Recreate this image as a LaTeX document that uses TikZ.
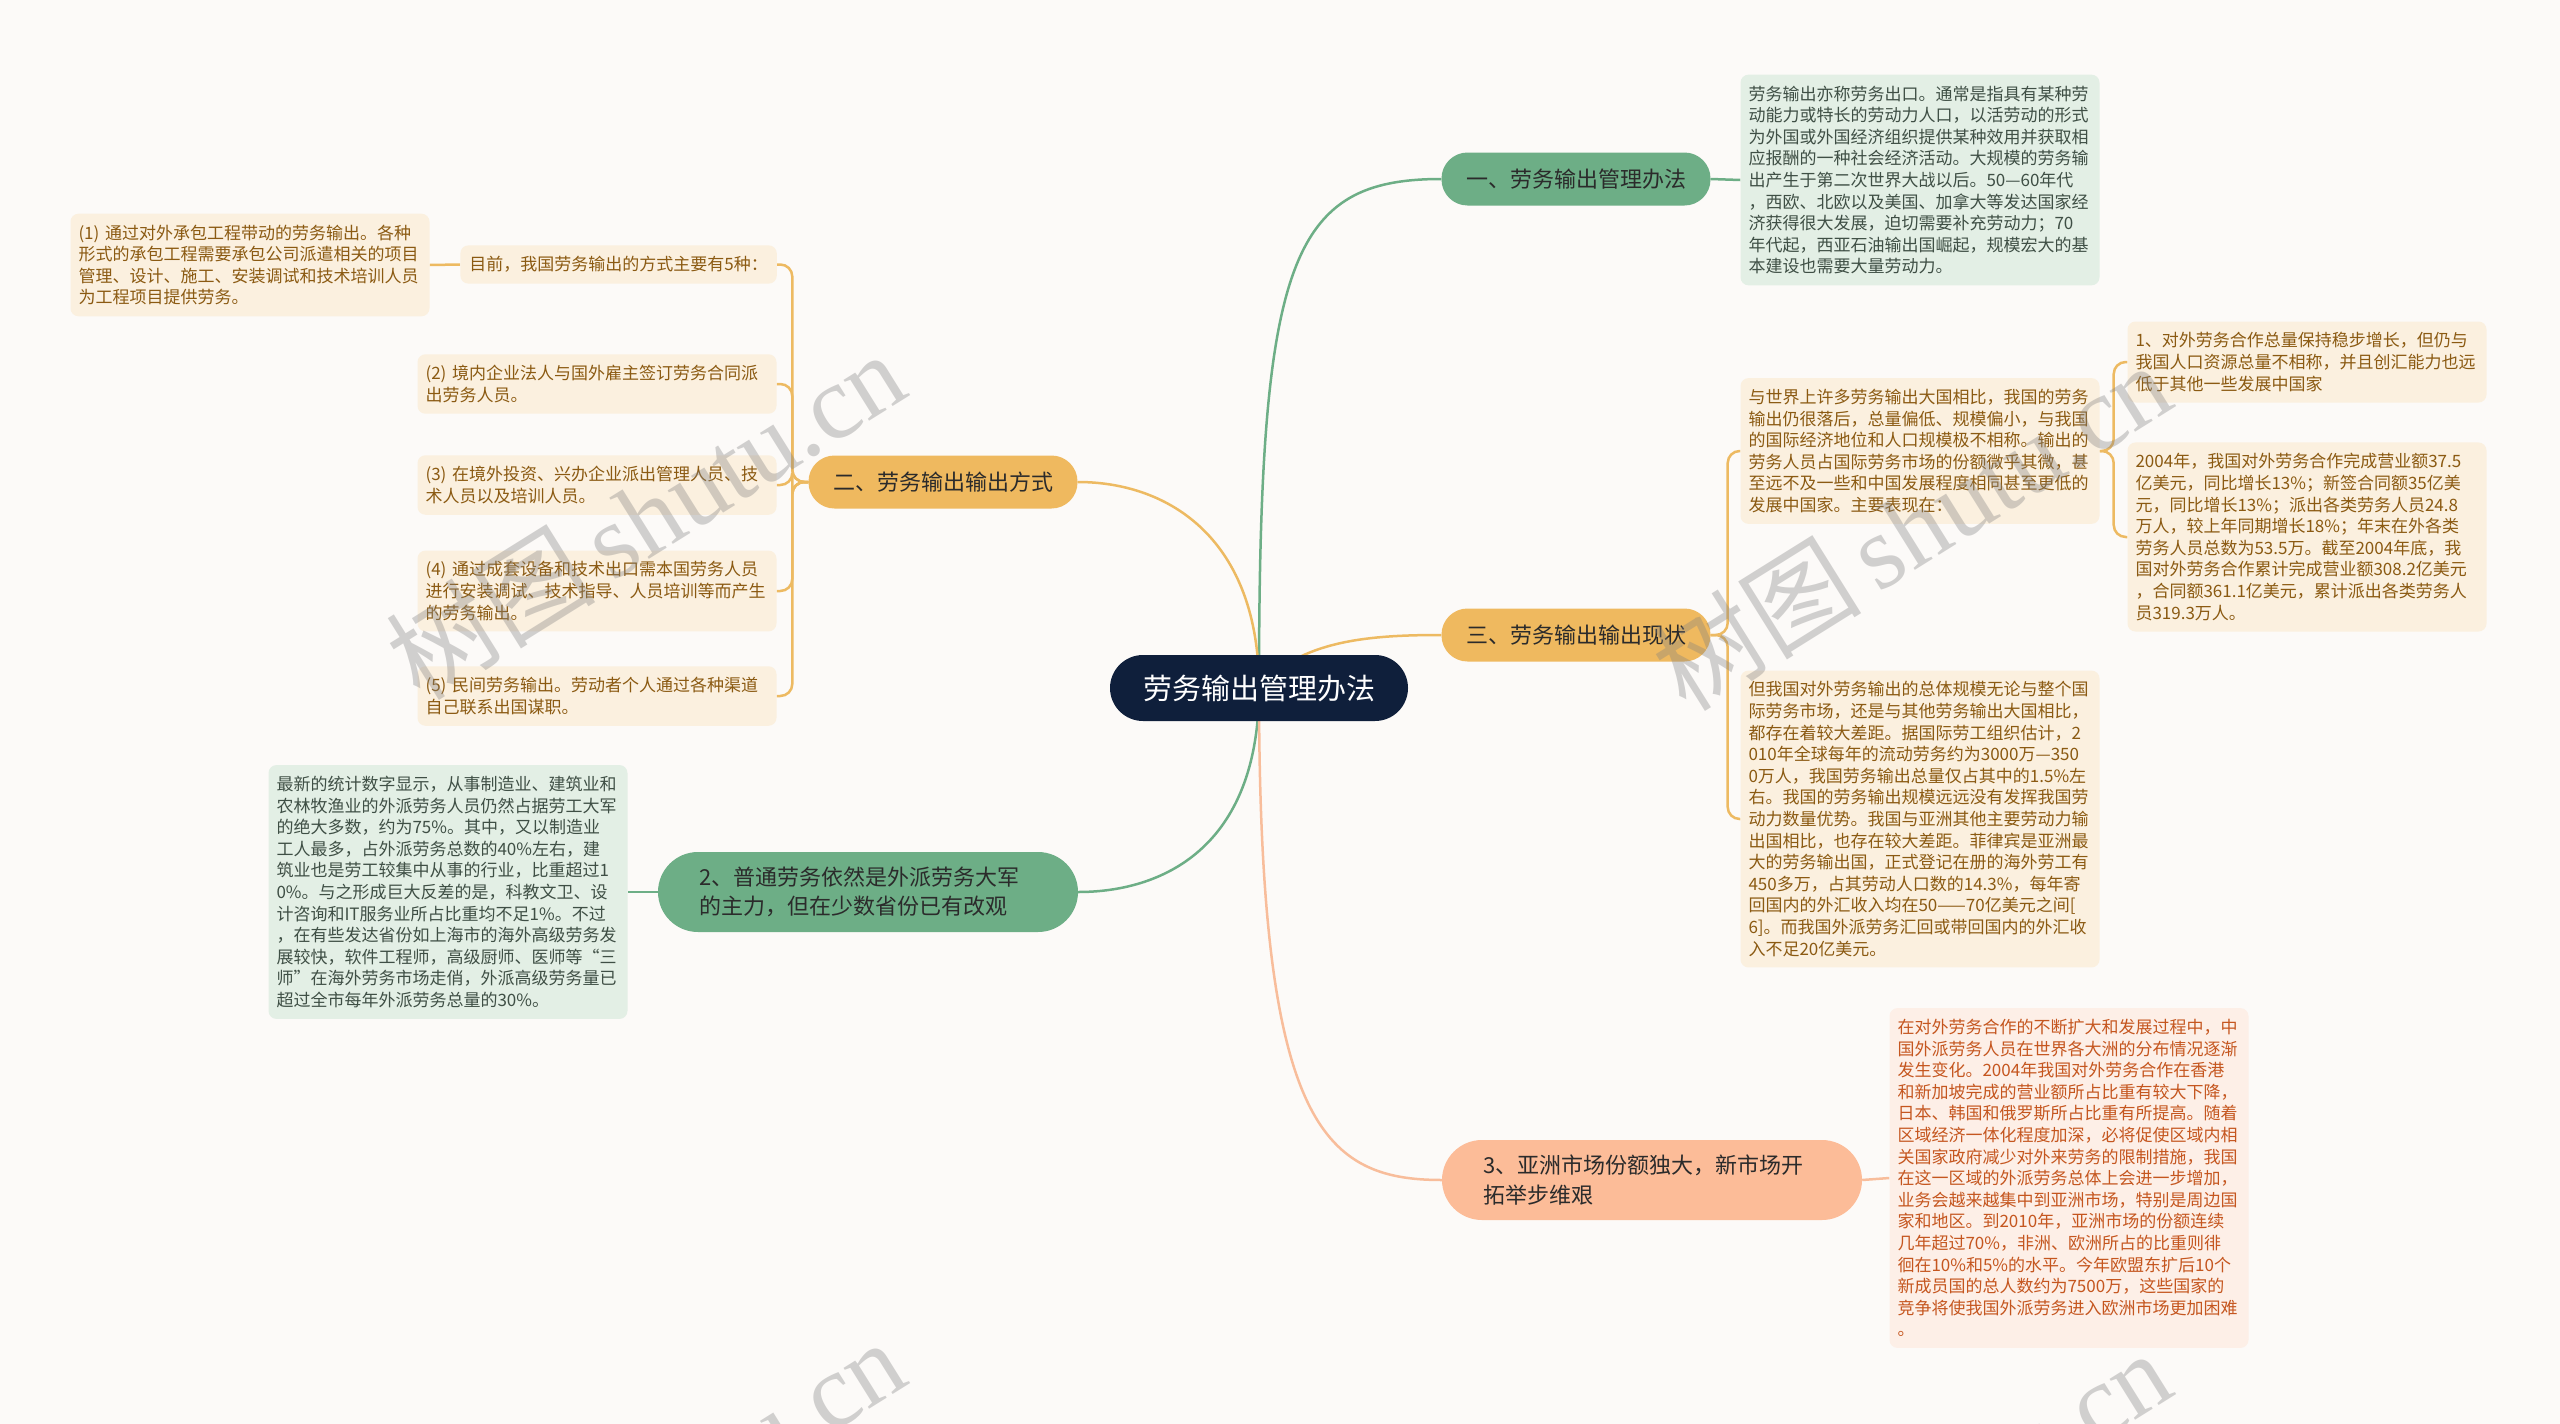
\documentclass[tikz,border=0pt]{standalone}
\usepackage{fontspec}
\setmainfont{Noto Sans CJK SC}
\newfontfamily\wmserif{Liberation Serif}
\usetikzlibrary{backgrounds}
\definecolor{bgc}{HTML}{FCFAF8}
\definecolor{navy}{HTML}{0F1F3B}
\definecolor{gbranch}{HTML}{6DAE86}
\definecolor{gleaf}{HTML}{E3EFE5}
\definecolor{gtext}{HTML}{3F4F45}
\definecolor{obranch}{HTML}{EFB95F}
\definecolor{oleaf}{HTML}{FBF0DF}
\definecolor{otext}{HTML}{8B5A12}
\definecolor{oline}{HTML}{EDBA62}
\definecolor{sbranch}{HTML}{FCBC98}
\definecolor{sleaf}{HTML}{FDEFE7}
\definecolor{stext}{HTML}{C5561F}
\definecolor{sline}{HTML}{F8BD9B}
\definecolor{btext}{HTML}{2B2B2B}
\tikzset{
  leafbox/.style={rounded corners=8pt, inner xsep=8pt, inner ysep=11pt, text width=343pt, align=left, font=\fontsize{17}{21.6}\selectfont},
  gleafbox/.style={leafbox, fill=gleaf, text=gtext},
  oleafbox/.style={leafbox, fill=oleaf, text=otext},
  sleafbox/.style={leafbox, fill=sleaf, text=stext},
  branchone/.style={rounded corners=26pt, minimum height=53pt, minimum width=269pt, inner sep=0pt, text=btext, font=\fontsize{22}{29.5}\selectfont},
  branchtwo/.style={rounded corners=40pt, minimum height=80pt, inner xsep=41pt, inner ysep=6pt, text width=338pt, align=left, text=btext, font=\fontsize{22}{29.5}\selectfont},
  rootbox/.style={fill=navy, text=white, rounded corners=33pt, minimum width=298pt, minimum height=66pt, font=\fontsize{29}{34}\selectfont},
  conn/.style={line width=2.5pt},
  wmark/.style={text=gray, opacity=0.35, rotate=32, font=\fontsize{105}{110}\selectfont}
}
\begin{document}
\begin{tikzpicture}[x=1pt,y=-1pt]
\useasboundingbox (0,0) rectangle (2560,1424);

\node[rootbox] (root) at (1259,688) {劳务输出管理办法};

\node[branchone, fill=gbranch] (b1) at (1576,179) {一、劳务输出管理办法};
\node[branchone, fill=obranch] (b2) at (943,482) {二、劳务输出输出方式};
\node[branchone, fill=obranch] (b3) at (1576,635) {三、劳务输出输出现状};
\node[branchtwo, fill=gbranch] (b4) at (868,892) {2、普通劳务依然是外派劳务大军\\的主力，但在少数省份已有改观};
\node[branchtwo, fill=sbranch] (b5) at (1652,1180) {3、亚洲市场份额独大，新市场开\\拓举步维艰};

\node[gleafbox] (l1) at (1920,180) {劳务输出亦称劳务出口。通常是指具有某种劳\\动能力或特长的劳动力人口，以活劳动的形式\\为外国或外国经济组织提供某种效用并获取相\\应报酬的一种社会经济活动。大规模的劳务输\\出产生于第二次世界大战以后。50—60年代\\，西欧、北欧以及美国、加拿大等发达国家经\\济获得很大发展，迫切需要补充劳动力；70\\年代起，西亚石油输出国崛起，规模宏大的基\\本建设也需要大量劳动力。};

\node[oleafbox] (r1) at (1920,451) {与世界上许多劳务输出大国相比，我国的劳务\\输出仍很落后，总量偏低、规模偏小，与我国\\的国际经济地位和人口规模极不相称。输出的\\劳务人员占国际劳务市场的份额微乎其微，甚\\至远不及一些和中国发展程度相同甚至更低的\\发展中国家。主要表现在：};

\node[oleafbox] (r2) at (1920,819) {但我国对外劳务输出的总体规模无论与整个国\\际劳务市场，还是与其他劳务输出大国相比，\\都存在着较大差距。据国际劳工组织估计，2\\010年全球每年的流动劳务约为3000万—350\\0万人，我国劳务输出总量仅占其中的1.5\%左\\右。我国的劳务输出规模远远没有发挥我国劳\\动力数量优势。我国与亚洲其他主要劳动力输\\出国相比，也存在较大差距。菲律宾是亚洲最\\大的劳务输出国，正式登记在册的海外劳工有\\450多万，占其劳动人口数的14.3\%，每年寄\\回国内的外汇收入均在50——70亿美元之间[\\6]。而我国外派劳务汇回或带回国内的外汇收\\入不足20亿美元。};

\node[oleafbox] (rr1) at (2307,362) {1、对外劳务合作总量保持稳步增长，但仍与\\我国人口资源总量不相称，并且创汇能力也远\\低于其他一些发展中国家};

\node[oleafbox] (rr2) at (2307,537) {2004年，我国对外劳务合作完成营业额37.5\\亿美元，同比增长13\%；新签合同额35亿美\\元，同比增长13\%；派出各类劳务人员24.8\\万人，较上年同期增长18\%；年末在外各类\\劳务人员总数为53.5万。截至2004年底，我\\国对外劳务合作累计完成营业额308.2亿美元\\，合同额361.1亿美元，累计派出各类劳务人\\员319.3万人。};

\node[sleafbox] (s1) at (2069,1178) {在对外劳务合作的不断扩大和发展过程中，中\\国外派劳务人员在世界各大洲的分布情况逐渐\\发生变化。2004年我国对外劳务合作在香港\\和新加坡完成的营业额所占比重有较大下降，\\日本、韩国和俄罗斯所占比重有所提高。随着\\区域经济一体化程度加深，必将促使区域内相\\关国家政府减少对外来劳务的限制措施，我国\\在这一区域的外派劳务总体上会进一步增加，\\业务会越来越集中到亚洲市场，特别是周边国\\家和地区。到2010年，亚洲市场的份额连续\\几年超过70\%，非洲、欧洲所占的比重则徘\\徊在10\%和5\%的水平。今年欧盟东扩后10个\\新成员国的总人数约为7500万，这些国家的\\竞争将使我国外派劳务进入欧洲市场更加困难\\。};

\node[oleafbox, text width=, anchor=east, inner xsep=9pt] (c0) at (777,264.5) {目前，我国劳务输出的方式主要有5种：};

\node[oleafbox] (p1) at (250,265) {(1) 通过对外承包工程带动的劳务输出。各种\\形式的承包工程需要承包公司派遣相关的项目\\管理、设计、施工、安装调试和技术培训人员\\为工程项目提供劳务。};
\node[oleafbox] (p2) at (597,384) {(2) 境内企业法人与国外雇主签订劳务合同派\\出劳务人员。};
\node[oleafbox] (p3) at (597,485) {(3) 在境外投资、兴办企业派出管理人员、技\\术人员以及培训人员。};
\node[oleafbox] (p4) at (597,591) {(4) 通过成套设备和技术出口需本国劳务人员\\进行安装调试、技术指导、人员培训等而产生\\的劳务输出。};
\node[oleafbox] (p5) at (597,696) {(5) 民间劳务输出。劳动者个人通过各种渠道\\自己联系出国谋职。};

\node[gleafbox] (g2) at (448,892) {最新的统计数字显示，从事制造业、建筑业和\\农林牧渔业的外派劳务人员仍然占据劳工大军\\的绝大多数，约为75\%。其中，又以制造业\\工人最多，占外派劳务总数的40\%左右，建\\筑业也是劳工较集中从事的行业，比重超过1\\0\%。与之形成巨大反差的是，科教文卫、设\\计咨询和IT服务业所占比重均不足1\%。不过\\，在有些发达省份如上海市的海外高级劳务发\\展较快，软件工程师，高级厨师、医师等“三\\师”在海外劳务市场走俏，外派高级劳务量已\\超过全市每年外派劳务总量的30\%。};

\begin{pgfonlayer}{background}
\fill[bgc] (0,0) rectangle (2560,1424);
\draw[conn, gbranch] (root.center) .. controls (1259,260) and (1290,179) .. (b1.west);
\draw[conn, oline] (root.center) .. controls (1259,540) and (1170,482) .. (b2.east);
\draw[conn, oline] (root.center) .. controls (1300,640) and (1370,635) .. (b3.west);
\draw[conn, gbranch] (root.center) .. controls (1259,850) and (1160,892) .. (b4.east);
\draw[conn, sline] (root.center) .. controls (1259,1120) and (1320,1180) .. (b5.west);
\draw[conn, gbranch] (b1.east) -- (l1.west);
\draw[conn, gbranch] (b4.west) -- (g2.east);
\draw[conn, sline] (b5.east) -- (s1.west);
\draw[conn, oline] (c0.west) -- (p1.east);
\foreach \t in {c0,p2,p3,p4,p5}
  \draw[conn, oline, rounded corners=12pt] (b2.west) -- ++(-16,0) |- (\t.east);
\foreach \t in {r1,r2}
  \draw[conn, oline, rounded corners=12pt] (b3.east) -- ++(17,0) |- (\t.west);
\foreach \t in {rr1,rr2}
  \draw[conn, oline, rounded corners=12pt] (r1.east) -- ++(14,0) |- (\t.west);
\end{pgfonlayer}

\begin{scope}
\clip (0,0) rectangle (2560,1424);
\node[wmark] (wm1) at (645,515) {树图\,{\wmserif shutu.cn}};
\node[wmark] (wm2) at (1911,526) {树图\,{\wmserif shutu.cn}};
\node[wmark] (wm3) at (645,1503) {树图\,{\wmserif shutu.cn}};
\node[wmark] (wm4) at (1911,1514) {树图\,{\wmserif shutu.cn}};
\end{scope}
\end{tikzpicture}
\end{document}
